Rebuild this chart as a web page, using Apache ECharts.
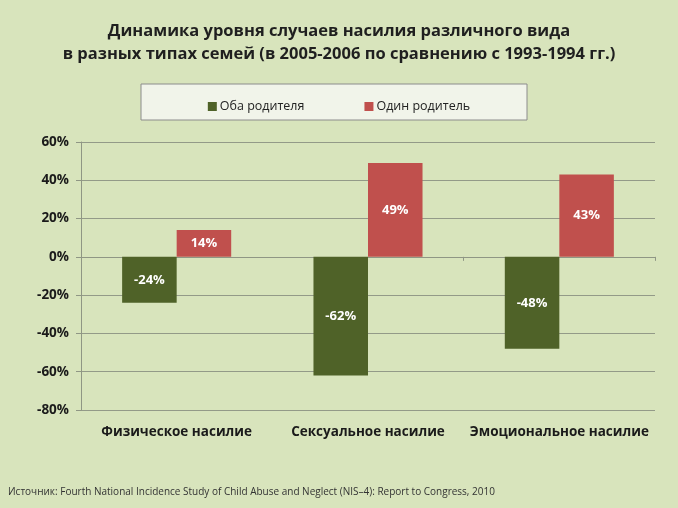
<!DOCTYPE html>
<html><head><meta charset="utf-8">
<script src="https://cdn.jsdelivr.net/npm/echarts@6/dist/echarts.min.js"></script>
<style>html,body{margin:0;padding:0;background:#d8e4bc;}#c{width:678px;height:508px;}</style>
</head><body><div id="c"></div>
<script>
const categories = ['Физическое насилие', 'Сексуальное насилие', 'Эмоциональное насилие'];
const bothParents = [-24, -62, -48];
const oneParent = [14, 49, 43];
const yTicks = [-80, -60, -40, -20, 0, 20, 40, 60];
const seriesNames = ['Оба родителя', 'Один родитель'];

const chart = echarts.init(document.getElementById('c'));
const font = 'Open Sans';
chart.setOption({
  backgroundColor: '#d8e4bc',
  textStyle: {fontFamily: font},
  title: {
    text: 'Динамика уровня случаев насилия различного вида\nв разных типах семей (в 2005-2006 по сравнению с 1993-1994 гг.)',
    left: 'center', top: 15,
    textStyle: {fontFamily: font, fontSize: 16.5, fontWeight: 'bold', color: '#1f1f1f', lineHeight: 23}
  },
  graphic: [
    {type: 'rect', shape: {x: 141, y: 84, width: 386, height: 36},
     style: {fill: '#f1f4ea', stroke: '#8c8c8c', lineWidth: 1}, z: 0},
    {type: 'text', left: 8, top: 487,
     style: {text: 'Источник: Fourth National Incidence Study of Child Abuse and Neglect (NIS–4): Report to Congress, 2010',
             fontFamily: font, fontSize: 10, fill: '#333'}}
  ],
  legend: {
    data: seriesNames, top: 95, left: 'center', itemGap: 60,
    itemWidth: 9, itemHeight: 9, icon: 'rect',
    textStyle: {fontFamily: font, fontSize: 12.5, color: '#222', padding: [0,0,0,-2]}, z: 5
  },
  grid: {left: 81, right: 23, top: 142, bottom: 98},
  xAxis: [{
    type: 'category', data: categories,
    axisLine: {onZero: true, lineStyle: {color: '#8f9684'}},
    axisTick: {show: true, length: 4, lineStyle: {color: '#8f9684'}},
    axisLabel: {show: false}
  }, {
    type: 'category', data: categories, position: 'bottom',
    axisLine: {show: false, onZero: false}, axisTick: {show: false},
    axisLabel: {interval: 0, margin: 15, fontFamily: font, fontSize: 13.5, fontWeight: 'bold', color: '#1a1a1a'}
  }],
  yAxis: {
    type: 'value', min: -80, max: 60, interval: 20,
    axisLine: {show: true, lineStyle: {color: '#8f9684'}},
    axisTick: {show: true, length: 5, inside: false, lineStyle: {color: '#8f9684'}},
    splitLine: {lineStyle: {color: '#939a88'}},
    axisLabel: {formatter: v => yTicks.includes(v) ? v + '%' : '', margin: 12,
                fontFamily: font, fontSize: 13.5, fontWeight: 'bold', color: '#1a1a1a'}
  },
  series: [{
    name: seriesNames[0], type: 'bar', data: bothParents, barGap: '0%', barCategoryGap: '43%',
    itemStyle: {color: '#4f6228'},
    label: {show: true, position: 'inside', formatter: p => p.value + '%',
            fontFamily: font, fontSize: 13, fontWeight: 'bold', color: '#fff'}
  }, {
    name: seriesNames[1], type: 'bar', data: oneParent, barGap: '0%', barCategoryGap: '43%',
    itemStyle: {color: '#c0504d'},
    label: {show: true, position: 'inside', formatter: p => p.value + '%',
            fontFamily: font, fontSize: 13, fontWeight: 'bold', color: '#fff'}
  }]
});
</script></body></html>
